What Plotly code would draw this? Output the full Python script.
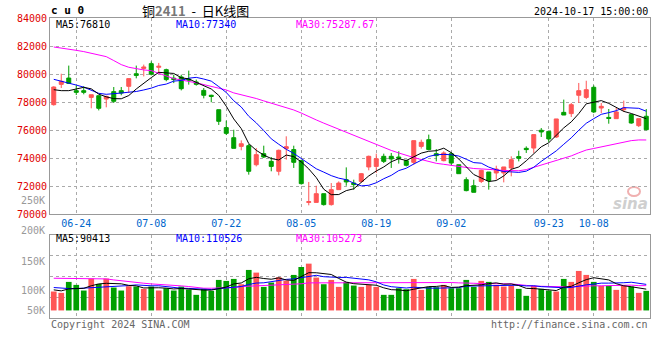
import plotly.graph_objects as go

# ---------------- data ----------------
dates = ["06-19","06-20","06-21","06-24","06-25","06-26","06-27","06-28",
         "07-01","07-02","07-03","07-04","07-05","07-08","07-09","07-10","07-11","07-12",
         "07-15","07-16","07-17","07-18","07-19","07-22","07-23","07-24","07-25","07-26",
         "07-29","07-30","07-31","08-01","08-02","08-05","08-06","08-07","08-08","08-09",
         "08-12","08-13","08-14","08-15","08-16","08-19","08-20","08-21","08-22","08-23",
         "08-26","08-27","08-28","08-29","08-30","09-02","09-03","09-04","09-05","09-06",
         "09-09","09-10","09-11","09-12","09-13","09-18","09-19","09-20","09-23","09-24",
         "09-25","09-26","09-27","09-30","10-08","10-09","10-10","10-11","10-14","10-15",
         "10-16","10-17"]

opens = [77810,79260,79710,78810,78810,78330,78450,78210,78740,78810,
         79120,80020,80400,80740,80480,80310,79700,79790,79640,79430,
         78830,78480,77450,76170,75450,74830,74880,73520,74310,73760,
         73050,74670,74600,73810,70830,70830,71450,70670,71740,72450,
         72210,72330,73360,73400,74120,74120,74070,73810,73690,74830,
         75310,74310,73810,74310,73520,72450,72020,72330,73000,72930,
         72930,73290,74100,74690,74710,75980,75900,75500,77260,77170,
         78480,78330,79050,77570,76900,76810,77450,77100,76310,76980]
highs = [79120,80020,80600,79170,79120,78520,78450,78450,79070,79070,
         79670,80600,80670,80900,80790,80380,79950,79950,80240,79600,
         79000,78520,77450,76670,76020,75260,75000,74710,74880,74070,
         74600,75550,74880,73880,72290,72020,71450,72210,72330,73330,
         72450,72930,74170,74310,74310,74360,74480,73880,75240,75310,
         75670,74640,74480,74430,73520,72620,72450,73170,73000,73450,
         73360,74120,74520,74830,75670,76140,75900,76790,78170,77930,
         79360,79520,79190,77930,77500,77570,78100,77100,76810,77500]
lows = [77740,79000,79290,78500,78550,77550,77400,77620,77930,78480,
        78640,79690,79830,79900,80020,79480,79350,78830,79240,79170,
        78260,77980,76360,75640,74690,74550,72810,73400,74000,73050,
        72760,73880,73290,72100,70620,70830,70600,70600,71740,72020,
        71740,72260,73120,72930,73640,73290,73600,73400,73520,74670,
        74550,73760,73760,73450,72880,71620,71550,72210,71740,72450,
        72260,72690,73760,74360,74360,75500,75120,75430,77070,76930,
        77930,78210,77210,77210,76450,76810,77290,76450,76210,75980]
closes = [79070,79480,79330,78690,78690,78520,77550,78400,78050,78640,
          79670,79900,80500,79980,80550,79600,79600,78950,79570,79260,
          78480,78400,76620,75760,74690,75020,73050,74240,74070,73400,
          74550,74810,73690,72170,70880,71450,70670,71740,72210,72290,
          72100,72880,74120,73950,73760,73930,73980,73480,75240,75120,
          74600,74170,74360,73640,72880,71670,71550,73120,72380,73210,
          73360,73880,73980,74600,75670,75860,75360,76790,77070,77810,
          78810,78880,77290,77690,76830,77290,77570,76500,76810,76020]

ma5 = [78880,78810,78810,78930,79050,78940,78560,78370,78240,78230,
       78460,78930,79350,79740,80120,80100,80040,79730,79650,79400,
       79170,78930,78470,77700,76790,76100,75030,74550,74210,73960,
       73860,74210,74100,73720,73220,72600,71770,71380,71390,71670,
       71800,72240,72720,73070,73360,73730,73950,73820,74080,74350,
       74480,74520,74700,74380,73930,73340,72820,72570,72320,72390,
       72720,73190,73360,73800,74300,74800,75090,75650,76150,76580,
       77170,77870,77970,78100,77900,77600,77330,77180,77000,76810]
ma10 = [79620,79500,79380,79210,79060,78850,78620,78550,78580,78640,
        78700,78750,78860,78990,79180,79280,79490,79540,79700,79760,
        79640,79490,79100,78680,78090,77640,76980,76510,75960,75370,
        74980,74620,74330,73970,73590,73230,72990,72740,72560,72450,
        72200,72010,72050,72230,72520,72760,73100,73270,73570,73860,
        74110,74230,74260,74230,74140,73910,73670,73630,73350,73160,
        73030,73010,72970,73060,73340,73760,74140,74510,74980,75440,
        75980,76480,76810,77120,77240,77380,77600,77570,77550,77340]
ma30 = [81930,81860,81810,81690,81600,81480,81340,81240,80960,80670,
        80480,80380,80290,80240,80030,79860,79670,79550,79470,79370,
        79250,79140,78990,78860,78650,78520,78400,78250,78080,77930,
        77770,77620,77430,77210,76950,76720,76490,76270,76070,75860,
        75610,75370,75160,74960,74730,74540,74360,74170,74030,73890,
        73760,73620,73550,73480,73410,73300,73250,73220,73160,73150,
        73110,73080,73090,73170,73330,73480,73640,73800,73970,74150,
        74370,74570,74680,74800,74910,75020,75140,75240,75290,75288]

volume = [80300,74600,121100,108400,84500,135200,112600,135200,97200,84500,
          102800,101400,91500,101400,84500,94300,84500,101400,88700,66200,
          91500,83100,129500,125300,133800,111200,171800,160500,100000,118300,
          140800,126700,150700,184400,198500,139400,111200,129500,100000,121100,
          105600,100000,108400,100000,66200,66200,94300,90100,133800,87300,
          100000,98600,108400,94300,94300,129500,100000,125300,121100,108400,
          101400,105600,91500,62000,104200,91500,84500,80300,133800,121100,
          167600,150700,121100,104200,104200,87300,105600,101400,74600,83100]
vma5 = [87300,83100,91500,92900,93800,104800,112400,115200,112900,112900,
        106400,104200,95500,96300,96300,94600,91200,93200,90700,87000,
        86500,86200,91800,99100,112600,116600,134300,140500,135400,132400,
        138300,129300,127300,144200,160200,159900,156900,152600,135700,120200,
        113500,111200,107000,107000,96000,88100,87000,83400,90100,94300,
        101100,101900,105600,97700,99100,105000,105300,108700,114000,116900,
        111200,112400,105600,93800,92900,91000,86700,84500,98800,102200,
        117400,130700,138800,132900,129500,113500,104500,100500,94600,90413]
vma10 = [97200,94300,92900,92900,94300,95700,97200,98600,100000,103300,
         105600,108300,105300,104600,104600,100500,97700,94300,93500,91700,
         90500,88700,92500,94900,99800,101500,110200,116200,117300,122500,
         127400,131800,133900,139800,146300,149100,143100,140000,140000,140200,
         136700,134000,129800,121400,108100,100800,99100,95200,98600,95200,
         94600,94500,94500,93900,96700,103100,103600,107100,105900,108000,
         108100,108800,107100,103900,104900,101100,99500,95000,96300,97600,
         104200,108700,111700,115900,115900,115500,117600,119700,113800,110526]
vma30 = [136600,136600,136600,136600,136600,136600,136600,133800,129500,125300,
         122500,118300,115500,112600,111200,108400,105600,104200,101400,97200,
         94300,94300,94300,95700,97200,101400,102800,102800,104200,105900,
         107900,109500,110500,113100,116900,117000,117000,116900,116900,118100,
         118300,118100,118700,118700,118100,117100,117400,117100,118600,119300,
         119500,120100,119400,118400,117000,117700,115300,114000,114800,114500,
         113200,112500,110500,106400,103200,101700,100800,99100,100300,100300,
         102400,104100,104500,104600,105900,106600,106900,107300,105300,105273]

tick_dates = ["06-24","07-08","07-22","08-05","08-19","09-02","09-23","10-08"]
price_ticks = [70000,72000,74000,76000,78000,80000,82000,84000]
vol_labels = ["250K","200K","150K","100K","50K"]
vol_label_px = [200.7,230.7,261.7,290.7,310.7]

header_ma = ["MA5:76810","MA10:77340","MA30:75287.67"]
vol_ma = ["MA5:90413","MA10:110526","MA30:105273"]

# ---------------- style ----------------
RED = "#FF5555"
GREEN = "#009F00"
MONO = "DejaVu Sans Mono"
GRID = "#aaaaaa"
BORDER = "#999999"

W, H = 660, 360
L, R, T, B = 50, 10, 18, 42
PH = H - T - B

def px(x):
    return (x - L) / (W - L - R)

def py(y):
    return (H - B - y) / PH

fig = go.Figure()

fig.add_trace(go.Candlestick(
    x=dates, open=opens, high=highs, low=lows, close=closes,
    xaxis="x", yaxis="y",
    increasing=dict(line=dict(color=RED, width=1), fillcolor=RED),
    decreasing=dict(line=dict(color=GREEN, width=1), fillcolor=GREEN),
    whiskerwidth=0, hoverinfo="skip", showlegend=False))

for vals, col in [(ma30, "#FF00FF"), (ma10, "#0000FF"), (ma5, "#000000")]:
    fig.add_trace(go.Scatter(x=dates, y=vals, mode="lines", xaxis="x", yaxis="y",
                             line=dict(color=col, width=1), hoverinfo="skip",
                             showlegend=False))

vcolors = [RED if c >= o else GREEN for o, c in zip(opens, closes)]
fig.add_trace(go.Bar(x=dates, y=volume, xaxis="x2", yaxis="y2",
                     marker=dict(color=vcolors, line=dict(width=0)),
                     width=0.76, hoverinfo="skip", showlegend=False))

for vals, col in [(vma30, "#FF00FF"), (vma10, "#0000FF"), (vma5, "#000000")]:
    fig.add_trace(go.Scatter(x=dates, y=vals, mode="lines", xaxis="x2", yaxis="y2",
                             line=dict(color=col, width=1), hoverinfo="skip",
                             showlegend=False))

vlo, vhi = -32000, 320000
vgrid = [vlo + (vhi - vlo) * k / 4 for k in (1, 2, 3)]

axis_common = dict(showline=True, mirror=True, linecolor=BORDER, linewidth=1,
                   showgrid=True, gridcolor=GRID, griddash="dot", gridwidth=1,
                   zeroline=False, ticks="", fixedrange=True, automargin=False)

fig.update_layout(
    width=W, height=H,
    margin=dict(l=L, r=R, t=T, b=B, autoexpand=False),
    paper_bgcolor="white", plot_bgcolor="white",
    boxgap=0.24, bargap=0.24,
    font=dict(family=MONO, size=10),
    xaxis=dict(axis_common, domain=[0, 1], anchor="y", type="category",
               range=[-0.5, len(dates) - 0.5],
               tickvals=tick_dates, ticktext=tick_dates,
               tickfont=dict(color="#0066CC", size=10, family=MONO),
               rangeslider=dict(visible=False)),
    xaxis2=dict(axis_common, domain=[0, 1], anchor="y2", type="category",
                range=[-0.5, len(dates) - 0.5], matches="x",
                tickvals=tick_dates, showticklabels=False),
    yaxis=dict(axis_common, domain=[py(214), 1], anchor="x",
               range=[price_ticks[0], price_ticks[-1]],
               tickvals=price_ticks, ticktext=[str(v) for v in price_ticks],
               tickfont=dict(color="#E00000", size=10, family=MONO)),
    yaxis2=dict(axis_common, domain=[0, py(235)], anchor="x2",
                range=[vlo, vhi], tickvals=vgrid, showticklabels=False),
)

ann = []
def add(text, x, y, xanchor="left", color="#000", size=10, family=MONO, **kw):
    ann.append(dict(text=text, x=px(x), y=py(y), xref="paper", yref="paper",
                    xanchor=xanchor, yanchor="middle", showarrow=False,
                    font=dict(color=color, size=size, family=family), **kw))

add("<b>c u 0</b>", 49, 11, size=11)
add("铜<span style='color:#777777'><b>2411</b></span>  -  日K线图", 140, 10,
    size=13, family="Noto Sans CJK SC")
add("2024-10-17 15:00:00", 650, 12, xanchor="right")

ma_cols = ["#000000", "#0000FF", "#FF00FF"]
ma_x = [54, 174, 294]
for t, c, x in zip(header_ma, ma_cols, ma_x):
    add(t, x, 24.5, color=c)
for t, c, x in zip(vol_ma, ma_cols, ma_x):
    add(t, x, 238.5, color=c)

for t, y in zip(vol_labels, vol_label_px):
    add(t, 47, y, xanchor="right", color="#999999")

add("Copyright 2024 SINA.COM", 49, 324, color="#666666")
add("http://finance.sina.com.cn", 650, 324, xanchor="right", color="#666666")
add("<b><i>sina</i></b>", 650, 204, xanchor="right", color="#cfcfcf", size=15,
    family="DejaVu Sans")

# the little "eye" of the sina watermark logo
fig.add_shape(type="circle", xref="paper", yref="paper",
              x0=px(628), x1=px(640), y0=py(196), y1=py(187),
              line=dict(color="#f0b0b0", width=2), fillcolor="rgba(0,0,0,0)",
              layer="below")

fig.update_layout(annotations=ann)

fig.write_html("out.html", config={"displayModeBar": False, "staticPlot": True})

# remove the browser's default page margin so the chart sits at (0, 0)
with open("out.html", encoding="utf-8") as f:
    html = f.read()
html = html.replace("<head>", "<head><style>html,body{margin:0;padding:0;}</style>", 1)
with open("out.html", "w", encoding="utf-8") as f:
    f.write(html)
